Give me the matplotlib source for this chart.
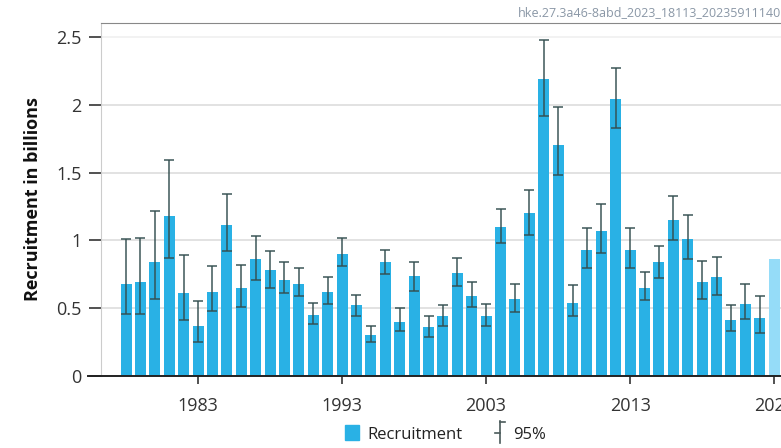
import matplotlib
matplotlib.use("Agg")
import matplotlib.pyplot as plt
import numpy as np
from matplotlib.patches import Rectangle
from matplotlib.lines import Line2D

plt.rcParams['font.family'] = ['Open Sans', 'DejaVu Sans']

# recruitment (billions) with 95% limits
years = list(range(1978, 2024))
recruitment = [0.68, 0.69, 0.84, 1.18, 0.61, 0.37, 0.62, 1.11, 0.65, 0.86,
               0.78, 0.71, 0.68, 0.45, 0.62, 0.90, 0.52, 0.30, 0.84, 0.40,
               0.74, 0.36, 0.44, 0.76, 0.59, 0.44, 1.10, 0.57, 1.20, 2.19,
               1.70, 0.54, 0.93, 1.07, 2.04, 0.93, 0.65, 0.84, 1.15, 1.01,
               0.69, 0.73, 0.41, 0.53, 0.43, 0.86]
upper = [1.01, 1.02, 1.22, 1.59, 0.89, 0.55, 0.81, 1.34, 0.82, 1.03,
         0.92, 0.84, 0.80, 0.54, 0.73, 1.02, 0.60, 0.37, 0.93, 0.50,
         0.84, 0.44, 0.52, 0.87, 0.69, 0.53, 1.23, 0.68, 1.37, 2.48,
         1.98, 0.67, 1.09, 1.27, 2.27, 1.09, 0.77, 0.96, 1.33, 1.19,
         0.85, 0.88, 0.52, 0.68, 0.59, np.nan]
lower = [0.46, 0.46, 0.57, 0.87, 0.41, 0.25, 0.48, 0.92, 0.51, 0.71,
         0.65, 0.61, 0.59, 0.38, 0.53, 0.81, 0.44, 0.25, 0.75, 0.33,
         0.63, 0.29, 0.37, 0.66, 0.51, 0.37, 0.98, 0.47, 1.04, 1.92,
         1.48, 0.44, 0.80, 0.91, 1.83, 0.80, 0.56, 0.72, 1.00, 0.86,
         0.57, 0.60, 0.33, 0.42, 0.32, np.nan]
xticks = [1983, 1993, 2003, 2013, 2023]
yticks = [0, 0.5, 1, 1.5, 2, 2.5]

years = np.array(years)
rec = np.array(recruitment)
up = np.array(upper)
lo = np.array(lower)

W, H = 781, 448
fig = plt.figure(figsize=(W / 100, H / 100), dpi=100)
ax = fig.add_axes([101 / W, 72 / H, (790 - 101) / W, (376 - 23) / H])

bar_col = '#29b1e5'
cols = [bar_col] * (len(years) - 1) + ['#95dcf8']
ax.bar(years, rec, width=0.76, color=cols, zorder=2)
ax.errorbar(years, rec, yerr=[rec - lo, up - rec], fmt='none',
            ecolor='#344f50', elinewidth=1.4, capsize=3.3, capthick=1.4,
            alpha=0.75, zorder=3)

ax.set_xlim(1976.26, 2024.1)
ax.set_ylim(0, 2.603)
ax.set_yticks(yticks)
ax.set_yticklabels(['0', '0.5', '1', '1.5', '2', '2.5'])
ax.set_xticks(xticks)
ax.tick_params(axis='y', length=9, width=1.2, color='#333333', pad=5,
               labelsize=13, labelcolor='#333333')
ax.tick_params(axis='x', length=6, width=1.2, color='#333333', pad=9,
               labelsize=13, labelcolor='#333333')
ax.xaxis.get_major_ticks()[2].tick1line.set_color('#bbbbbb')

ax.grid(axis='y', color='#dddddd', linewidth=1.2, zorder=0)
ax.yaxis.get_gridlines()[-1].set_color('#f0f0f0')
ax.spines['right'].set_visible(False)
ax.spines['left'].set_color('#cccccc')
ax.spines['top'].set_color('#888888')
ax.spines['bottom'].set_visible(False)
ax.plot([-0.019, 1], [0, 0], transform=ax.transAxes, clip_on=False,
        color='#222222', linewidth=1.4, zorder=4)

ax.set_ylabel('Recruitment in billions', fontsize=13, fontweight='bold',
              color='#111111', labelpad=10)

fig.text(781 / W, 1 - 13 / H, 'hke.27.3a46-8abd_2023_18113_20235911140',
         ha='right', va='center', fontsize=9, color='#8a97a6')

# legend
fig.add_artist(Rectangle((345 / W, 1 - 440 / H), 14 / W, 15 / H,
                         color=bar_col, transform=fig.transFigure))
fig.text(367 / W, 1 - 435 / H, 'Recruitment', fontsize=12,
         color='#222222', va='center')
lc = '#4a5a5a'
fig.add_artist(Line2D([500 / W, 500 / W], [1 - 443 / H, 1 - 421 / H],
                      color=lc, lw=1.2, transform=fig.transFigure))
fig.add_artist(Line2D([500 / W, 505 / W], [1 - 422 / H, 1 - 422 / H],
                      color=lc, lw=1.2, transform=fig.transFigure))
fig.add_artist(Line2D([495 / W, 500 / W], [1 - 433 / H, 1 - 433 / H],
                      color=lc, lw=1.2, transform=fig.transFigure))
fig.text(513 / W, 1 - 435 / H, '95%', fontsize=12, color='#222222',
         va='center')

fig.savefig('out.png', dpi=100)
